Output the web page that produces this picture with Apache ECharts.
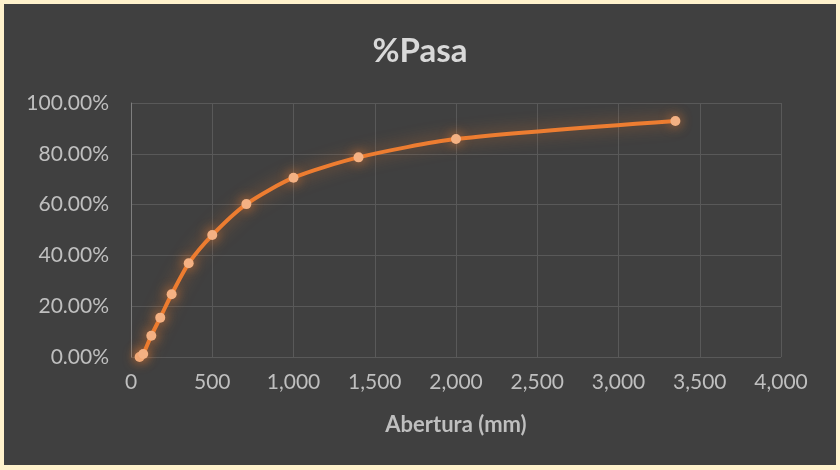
<!DOCTYPE html>
<html>
<head>
<meta charset="utf-8">
<script src="https://cdn.jsdelivr.net/npm/echarts@6/dist/echarts.min.js"></script>
<style>
  html, body { margin: 0; padding: 0; width: 840px; height: 470px; background: #fff2cc; overflow: hidden; }
  #chart { position: absolute; left: 4px; top: 4px; width: 832px; height: 461px; }
</style>
</head>
<body>
<div id="chart"></div>
<script>
// Sieve openings and cumulative percent passing
const abertura = [53, 75, 125, 180, 250, 355, 500, 710, 1000, 1400, 2000, 3350];
const pasa = [0.0, 1.2, 8.4, 15.5, 24.7, 36.9, 48.0, 60.2, 70.6, 78.6, 85.8, 92.9];
const xTicks = { min: 0, max: 4000, interval: 500 };
const yTicks = { min: 0, max: 100, interval: 20 };

const font = 'Lato, "Open Sans", sans-serif';
const chart = echarts.init(document.getElementById('chart'));
chart.setOption({
  backgroundColor: '#404040',
  animation: false,
  title: {
    text: '%Pasa',
    left: 'center',
    top: 26,
    textStyle: { color: '#d9d9d9', fontSize: 33, fontWeight: 'bold', fontFamily: font }
  },
  grid: { left: 127, right: 55, top: 99, bottom: 108 },
  xAxis: {
    type: 'value',
    min: xTicks.min, max: xTicks.max, interval: xTicks.interval,
    name: 'Abertura (mm)',
    nameLocation: 'middle',
    nameGap: 57,
    nameTextStyle: { color: '#bfbfbf', fontSize: 22, fontWeight: 'bold', fontFamily: font },
    axisLine: { show: false },
    axisTick: { show: false },
    axisLabel: {
      color: '#bfbfbf', fontSize: 21, fontFamily: font, margin: 15,
      formatter: v => v.toLocaleString('en-US')
    },
    splitLine: { show: true, lineStyle: { color: '#595959', width: 1 } }
  },
  yAxis: {
    type: 'value',
    min: yTicks.min, max: yTicks.max, interval: yTicks.interval,
    axisLine: { show: true, lineStyle: { color: '#7f7f7f', width: 1 } },
    axisTick: { show: false },
    axisLabel: {
      color: '#bfbfbf', fontSize: 21, fontFamily: font, margin: 22,
      formatter: v => v.toFixed(2) + '%'
    },
    splitLine: { show: true, lineStyle: { color: '#595959', width: 1 } }
  },
  series: [{
    type: 'line',
    data: abertura.map((x, i) => [x, pasa[i]]),
    smooth: 0.25,
    symbol: 'circle',
    symbolSize: 10,
    lineStyle: {
      color: '#ed7d31', width: 4,
      shadowColor: 'rgba(237,125,49,0.6)', shadowBlur: 16
    },
    itemStyle: {
      color: '#f4b183', borderWidth: 0,
      shadowColor: 'rgba(237,125,49,0.85)', shadowBlur: 12
    }
  }]
});
</script>
</body>
</html>
